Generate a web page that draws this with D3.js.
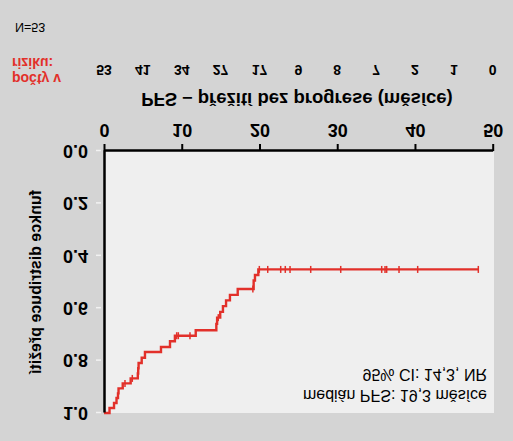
<!DOCTYPE html>
<html>
<head>
<meta charset="utf-8">
<script src="https://cdn.jsdelivr.net/npm/d3@7"></script>
<style>
  body { margin: 0; background: #d4d4d4; }
  svg { display: block; font-family: "Liberation Sans", Arial, sans-serif; }
</style>
</head>
<body>
<div id="chart"></div>
<script>
// Kaplan-Meier PFS curve (the reference picture is mirrored vertically)
var eventTimes = [0.71, 1.29, 1.61, 1.80, 1.87, 2.41, 3.43, 4.35, 4.40, 4.45, 4.85, 5.27, 7.33, 8.49, 9.12,
    11.80, 14.45, 14.55, 14.95, 15.30, 15.70, 16.20, 17.20, 19.25, 19.42, 19.85];
var survival = [0.981, 0.962, 0.943, 0.925, 0.906, 0.887, 0.868, 0.849, 0.829, 0.809, 0.789, 0.767, 0.748, 0.726, 0.705,
    0.684, 0.660, 0.636, 0.614, 0.592, 0.570, 0.549, 0.527, 0.494, 0.473, 0.452];
var censorTimes = [2.70, 3.64, 9.35, 9.56, 11.06, 14.70, 19.15, 19.98, 21.06, 22.73, 23.32, 23.93,
    26.59, 30.45, 35.72, 36.15, 36.36, 37.95, 40.35, 48.15];
var xTicks = [0, 10, 20, 30, 40, 50];
var yTicks = [0, 0.2, 0.4, 0.6, 0.8, 1.0];
var riskTimes = [0, 5, 10, 15, 20, 25, 30, 35, 40, 45, 50];
var riskCounts = [53, 41, 34, 27, 17, 9, 8, 7, 2, 1, 0];
var legendLines = ["medián PFS: 19,3 měsíce", "95% CI: 14,3, NR"];

var svgWidth = 513;
var svgHeight = 441;
var red = "#e2302a";

var svg = d3.select("#chart").append("svg")
    .attr("width", svgWidth)
    .attr("height", svgHeight);

svg.append("rect")
    .attr("width", svgWidth)
    .attr("height", svgHeight)
    .attr("fill", "#d4d4d4");

// everything is drawn normally and then flipped upside down
var root = svg.append("g")
    .attr("transform", `translate(0, ${svgHeight}) scale(1, -1)`);

var x = d3.scaleLinear().domain([0, 50]).range([104, 492.7]);
var y = d3.scaleLinear().domain([0, 1]).range([290, 28]);

// plot background
root.append("rect")
    .attr("x", x(0))
    .attr("y", y(1))
    .attr("width", 494 - x(0))
    .attr("height", y(0) - y(1))
    .attr("fill", "#efefef");

// survival step line
var pts = [[0, 1]];
eventTimes.forEach(function (t, i) { pts.push([t, survival[i]]); });
pts.push([d3.max(censorTimes), survival[survival.length - 1]]);

var line = d3.line()
    .x(d => x(d[0]))
    .y(d => y(d[1]))
    .curve(d3.curveStepAfter);

root.append("path")
    .datum(pts)
    .attr("d", line)
    .attr("fill", "none")
    .attr("stroke", red)
    .attr("stroke-width", 2.4);

function survAt(t) {
    var s = 1;
    eventTimes.forEach(function (e, i) { if (e <= t) s = survival[i]; });
    return s;
}

root.selectAll(".censor")
    .data(censorTimes)
    .enter()
    .append("line")
    .attr("x1", d => x(d))
    .attr("x2", d => x(d))
    .attr("y1", d => y(survAt(d)) - 3.5)
    .attr("y2", d => y(survAt(d)) + 3.5)
    .attr("stroke", red)
    .attr("stroke-width", 1.5);

// x axis
var bottomAxis = d3.axisBottom(x).tickValues(xTicks).tickSize(7).tickSizeOuter(0).tickFormat(d3.format("d"));
var xAxisG = root.append("g")
    .attr("transform", `translate(0, ${y(0)})`)
    .call(bottomAxis);
xAxisG.select(".domain").attr("stroke", "#000").attr("stroke-width", 2.5);
xAxisG.selectAll(".tick line").attr("stroke", "#000").attr("stroke-width", 2);
xAxisG.selectAll(".tick text")
    .attr("y", 27)
    .attr("dy", 0)
    .style("font-size", "18px")
    .style("font-weight", "bold")
    .style("font-family", "Liberation Sans, Arial, sans-serif")
    .attr("fill", "#000");

// y axis
var leftAxis = d3.axisLeft(y).tickValues(yTicks).tickSize(0).tickSizeOuter(0).tickFormat(d3.format(".1f"));
var yAxisG = root.append("g")
    .attr("transform", `translate(${x(0)}, 0)`)
    .call(leftAxis);
yAxisG.select(".domain").attr("stroke", "#000").attr("stroke-width", 2.5);
yAxisG.selectAll(".tick text")
    .attr("x", -16)
    .style("font-size", "18px")
    .style("font-weight", "bold")
    .style("font-family", "Liberation Sans, Arial, sans-serif")
    .attr("fill", "#000");
yAxisG.selectAll(".tick")
    .append("line")
    .attr("x1", -8)
    .attr("x2", -3)
    .attr("stroke", "#f2f2f2")
    .attr("stroke-width", 1.5);

// axis titles
root.append("text")
    .attr("x", 297)
    .attr("y", 348)
    .attr("text-anchor", "middle")
    .style("font-size", "18.5px")
    .style("font-weight", "bold")
    .text("PFS – přežití bez progrese (měsíce)");

root.append("text")
    .attr("transform", `translate(41, ${(y(0) + y(1)) / 2}) rotate(-90)`)
    .attr("text-anchor", "middle")
    .style("font-size", "16px")
    .style("font-weight", "bold")
    .text("funkce distribuce přežití");

// numbers at risk
root.selectAll(".risk")
    .data(riskCounts)
    .enter()
    .append("text")
    .attr("x", (d, i) => x(riskTimes[i]))
    .attr("y", 376)
    .attr("text-anchor", "middle")
    .style("font-size", "14px")
    .style("font-weight", "bold")
    .text(d => d);

root.append("text")
    .attr("x", 12)
    .attr("y", 367)
    .attr("fill", red)
    .style("font-size", "14px")
    .style("font-weight", "bold")
    .text("počty v");

root.append("text")
    .attr("x", 12)
    .attr("y", 383)
    .attr("fill", red)
    .style("font-size", "14px")
    .style("font-weight", "bold")
    .text("riziku:");

root.append("text")
    .attr("x", 15)
    .attr("y", 418)
    .style("font-size", "12.5px")
    .text("N=53");

// median annotation
root.selectAll(".legend")
    .data(legendLines)
    .enter()
    .append("text")
    .attr("x", 487)
    .attr("y", (d, i) => 51 + i * 21.5)
    .attr("text-anchor", "end")
    .style("font-size", "16px")
    .text(d => d);
</script>
</body>
</html>
